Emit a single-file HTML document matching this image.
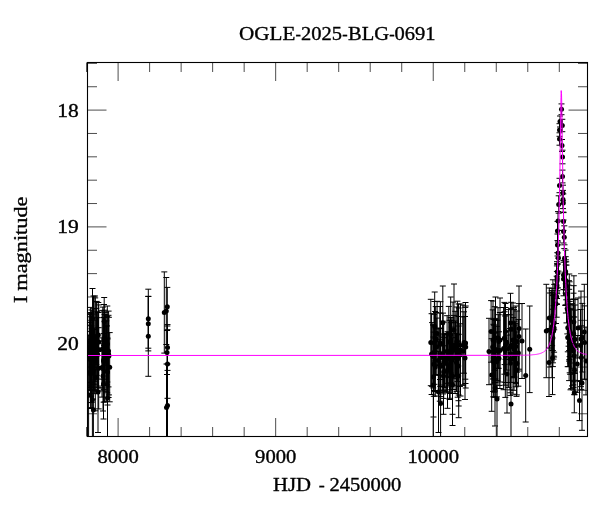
<!DOCTYPE html>
<html><head><meta charset="utf-8"><title>OGLE-2025-BLG-0691</title>
<style>html,body{margin:0;padding:0;background:#fff}svg{display:block}</style></head>
<body>
<svg width="600" height="512" viewBox="0 0 600 512">
<rect width="600" height="512" fill="#fff"/>
<defs><clipPath id="c"><rect x="87.5" y="62.5" width="500" height="374"/></clipPath></defs>
<g clip-path="url(#c)" stroke="#000" stroke-width="1" fill="none">
<path d="M148.3 289.2V348.2M145.3 289.2h6M145.3 348.2h6M148.3 296.5V350.9M145.3 296.5h6M145.3 350.9h6M148.3 296.3V376.3M145.3 296.3h6M145.3 376.3h6M164.3 271.9V353.1M161.3 271.9h6M161.3 353.1h6M166.3 277.5V344.5M163.3 277.5h6M163.3 344.5h6M167.3 287.4V326M164.3 287.4h6M164.3 326h6M167.5 324.6V370.4M164.5 324.6h6M164.5 370.4h6M167 330.5V374.5M164 330.5h6M164 374.5h6M167.5 329.7V398.3M164.5 329.7h6M164.5 398.3h6M167.5 364V447M164.5 364h6M164.5 447h6M166.5 364V451M163.5 364h6M163.5 451h6M93.1 342.7V399.1M90.1 342.7h6M90.1 399.1h6M95.3 344.4V410.8M92.3 344.4h6M92.3 410.8h6M90.4 314.1V382.9M87.4 314.1h6M87.4 382.9h6M90.5 325.2V382.2M87.5 325.2h6M87.5 382.2h6M94.1 328V389.6M91.1 328h6M91.1 389.6h6M96.2 301.8V388M93.2 301.8h6M93.2 388h6M91.3 325.8V407.6M88.3 325.8h6M88.3 407.6h6M91.6 328.7V402.5M88.6 328.7h6M88.6 402.5h6M96.3 308.4V364.6M93.3 308.4h6M93.3 364.6h6M90.4 341.6V402.6M87.4 341.6h6M87.4 402.6h6M96.7 301.4V375.4M93.7 301.4h6M93.7 375.4h6M94.4 329.5V393.7M91.4 329.5h6M91.4 393.7h6M97.9 312.5V386.1M94.9 312.5h6M94.9 386.1h6M95.2 297.9V381.7M92.2 297.9h6M92.2 381.7h6M97.2 311.8V369.8M94.2 311.8h6M94.2 369.8h6M91.4 310V386.8M88.4 310h6M88.4 386.8h6M97.6 317.7V391.1M94.6 317.7h6M94.6 391.1h6M98.7 304.9V379.1M95.7 304.9h6M95.7 379.1h6M90.4 307.4V385.2M87.4 307.4h6M87.4 385.2h6M93.7 314V390.8M90.7 314h6M90.7 390.8h6M90 313.2V371.2M87 313.2h6M87 371.2h6M90.4 316.8V397M87.4 316.8h6M87.4 397h6M91.1 312.5V396.1M88.1 312.5h6M88.1 396.1h6M90.6 339.3V408.5M87.6 339.3h6M87.6 408.5h6M89.8 322.4V390.6M86.8 322.4h6M86.8 390.6h6M98.7 327.7V408.9M95.7 327.7h6M95.7 408.9h6M93.8 308.7V384.3M90.8 308.7h6M90.8 384.3h6M90.4 331.4V387.6M87.4 331.4h6M87.4 387.6h6M103.7 333.6V389.4M100.7 333.6h6M100.7 389.4h6M102 337.9V397.1M99 337.9h6M99 397.1h6M102.8 307.1V390.9M99.8 307.1h6M99.8 390.9h6M106.9 325.9V384.9M103.9 325.9h6M103.9 384.9h6M104 312V370.2M101 312h6M101 370.2h6M105.7 314.9V372.3M102.7 314.9h6M102.7 372.3h6M104.7 321.4V384.4M101.7 321.4h6M101.7 384.4h6M108.6 311.1V397.5M105.6 311.1h6M105.6 397.5h6M106.2 326.2V385.2M103.2 326.2h6M103.2 385.2h6M108.9 317.3V394.9M105.9 317.3h6M105.9 394.9h6M106.3 320.8V401.2M103.3 320.8h6M103.3 401.2h6M104.6 314.5V401.9M101.6 314.5h6M101.6 401.9h6M108.5 315.3V386.9M105.5 315.3h6M105.5 386.9h6M104.8 310.2V365.2M101.8 310.2h6M101.8 365.2h6M102.2 310.4V388M99.2 310.4h6M99.2 388h6M109.7 332.6V401.8M106.7 332.6h6M106.7 401.8h6M103.8 317.4V379.2M100.8 317.4h6M100.8 379.2h6M103.6 317.6V402.2M100.6 317.6h6M100.6 402.2h6M107.2 316.4V392.8M104.2 316.4h6M104.2 392.8h6M92.5 288.5V348.5M89.5 288.5h6M89.5 348.5h6M104.2 297.5V345.5M101.2 297.5h6M101.2 345.5h6M93.5 296V384M90.5 296h6M90.5 384h6M95 296V380M92 296h6M92 380h6M98.3 302.5V367.5M95.3 302.5h6M95.3 367.5h6M104 304.5V385.5M101 304.5h6M101 385.5h6M107.3 306V382M104.3 306h6M104.3 382h6M98.3 312.3V387.7M95.3 312.3h6M95.3 387.7h6M106 312.3V391.7M103 312.3h6M103 391.7h6M89.3 314.3V389.7M86.3 314.3h6M86.3 389.7h6M88.6 335V455M85.6 335h6M85.6 455h6M92.4 340V460M89.4 340h6M89.4 460h6M93.4 350V470M90.4 350h6M90.4 470h6M107.5 338V458M104.5 338h6M104.5 458h6M98 351.5V432.5M95 351.5h6M95 432.5h6M103 341V411M100 341h6M100 411h6M103.5 349V419M100.5 349h6M100.5 419h6M107.5 339V405M104.5 339h6M104.5 405h6M462.9 305.1V385.3M459.9 305.1h6M459.9 385.3h6M457.4 301.2V381.6M454.4 301.2h6M454.4 381.6h6M443 313.1V393.9M440 313.1h6M440 393.9h6M456.5 333.4V391.6M453.5 333.4h6M453.5 391.6h6M465.3 307.4V379.2M462.3 307.4h6M462.3 379.2h6M436 312.5V365.1M433 312.5h6M433 365.1h6M460 323.8V386.4M457 323.8h6M457 386.4h6M439.8 328V401.2M436.8 328h6M436.8 401.2h6M440.4 301.7V386.5M437.4 301.7h6M437.4 386.5h6M443.7 322.2V390.6M440.7 322.2h6M440.7 390.6h6M448.8 306.4V377.6M445.8 306.4h6M445.8 377.6h6M449.6 340.9V399.5M446.6 340.9h6M446.6 399.5h6M431.6 313.7V394.5M428.6 313.7h6M428.6 394.5h6M442.7 321.2V391.8M439.7 321.2h6M439.7 391.8h6M450.7 317.6V389.8M447.7 317.6h6M447.7 389.8h6M440.1 313.1V375.1M437.1 313.1h6M437.1 375.1h6M463 316.9V384.9M460 316.9h6M460 384.9h6M447.1 315.7V386.9M444.1 315.7h6M444.1 386.9h6M464 311.8V373.2M461 311.8h6M461 373.2h6M435.7 306.6V374.6M432.7 306.6h6M432.7 374.6h6M434 314.3V390.5M431 314.3h6M431 390.5h6M458.5 316.5V400.7M455.5 316.5h6M455.5 400.7h6M436.8 318.1V375.3M433.8 318.1h6M433.8 375.3h6M465.7 306V388M462.7 306h6M462.7 388h6M437.1 301.3V365.5M434.1 301.3h6M434.1 365.5h6M438.3 328.8V392.2M435.3 328.8h6M435.3 392.2h6M432.1 322.6V386.6M429.1 322.6h6M429.1 386.6h6M453 302.1V389.5M450 302.1h6M450 389.5h6M458.7 308V395M455.7 308h6M455.7 395h6M435.1 311.5V391.5M432.1 311.5h6M432.1 391.5h6M440.8 328.5V385.1M437.8 328.5h6M437.8 385.1h6M451.2 322.7V376.7M448.2 322.7h6M448.2 376.7h6M455.2 311.3V378.7M452.2 311.3h6M452.2 378.7h6M434.4 301.5V384.3M431.4 301.5h6M431.4 384.3h6M433.8 332.1V396.3M430.8 332.1h6M430.8 396.3h6M440.7 336V396.6M437.7 336h6M437.7 396.6h6M435.3 338.2V396M432.3 338.2h6M432.3 396h6M433.2 324.9V387.9M430.2 324.9h6M430.2 387.9h6M457.7 334.8V397.2M454.7 334.8h6M454.7 397.2h6M448.8 332.6V385.2M445.8 332.6h6M445.8 385.2h6M440.1 339.8V392.4M437.1 339.8h6M437.1 392.4h6M456.8 307V376M453.8 307h6M453.8 376h6M455.5 321V376M452.5 321h6M452.5 376h6M451.8 327.1V393.3M448.8 327.1h6M448.8 393.3h6M453.9 315.4V385.2M450.9 315.4h6M450.9 385.2h6M451.8 320.9V376.5M448.8 320.9h6M448.8 376.5h6M449.5 320.3V393.1M446.5 320.3h6M446.5 393.1h6M450.8 317.9V393.5M447.8 317.9h6M447.8 393.5h6M455.1 322.7V393.5M452.1 322.7h6M452.1 393.5h6M451 320.3V385.1M448 320.3h6M448 385.1h6M450.1 333.9V398.3M447.1 333.9h6M447.1 398.3h6M451.2 320.2V382.8M448.2 320.2h6M448.2 382.8h6M445.9 333.4V391.4M442.9 333.4h6M442.9 391.4h6M444.5 334.2V387.4M441.5 334.2h6M441.5 387.4h6M443.9 334V390M440.9 334h6M440.9 390h6M443.7 345.8V398.4M440.7 345.8h6M440.7 398.4h6M446.4 334.1V392.7M443.4 334.1h6M443.4 392.7h6M446.9 334.7V383.3M443.9 334.7h6M443.9 383.3h6M430.8 299.3V385.7M427.8 299.3h6M427.8 385.7h6M434.7 292V361M431.7 292h6M431.7 361h6M442.8 286V359.4M439.8 286h6M439.8 359.4h6M454 284V376M451 284h6M451 376h6M450.7 297V373M447.7 297h6M447.7 373h6M440 306.5V379.5M437 306.5h6M437 379.5h6M458.5 304V386M455.5 304h6M455.5 386h6M460.5 304V396M457.5 304h6M457.5 396h6M465.5 302.5V383.5M462.5 302.5h6M462.5 383.5h6M440.6 353.5V453.5M437.6 353.5h6M437.6 453.5h6M433.3 325V445M430.3 325h6M430.3 445h6M433.5 337V417M430.5 337h6M430.5 417h6M438.5 351.5V432.5M435.5 351.5h6M435.5 432.5h6M443.5 337.7V414.3M440.5 337.7h6M440.5 414.3h6M447.5 331.7V408.3M444.5 331.7h6M444.5 408.3h6M452.5 337.7V414.3M449.5 337.7h6M449.5 414.3h6M452.5 344.5V425.5M449.5 344.5h6M449.5 425.5h6M458.7 326V406M455.7 326h6M455.7 406h6M458.7 334.3V417.7M455.7 334.3h6M455.7 417.7h6M465 316.5V399.5M462 316.5h6M462 399.5h6M494.7 306.7V370.3M491.7 306.7h6M491.7 370.3h6M493.9 325.2V397.2M490.9 325.2h6M490.9 397.2h6M505.1 316V385.2M502.1 316h6M502.1 385.2h6M493.1 331V391.4M490.1 331h6M490.1 391.4h6M504.4 302.4V374.2M501.4 302.4h6M501.4 374.2h6M495.1 318.4V380.2M492.1 318.4h6M492.1 380.2h6M492.7 309.9V384.1M489.7 309.9h6M489.7 384.1h6M505.5 303.5V359.3M502.5 303.5h6M502.5 359.3h6M516 325V383.4M513 325h6M513 383.4h6M518.4 319.6V386.2M515.4 319.6h6M515.4 386.2h6M514 307.3V390.3M511 307.3h6M511 390.3h6M503.6 307.5V389.7M500.6 307.5h6M500.6 389.7h6M496.9 326.3V396.9M493.9 326.3h6M493.9 396.9h6M514 309.6V377.8M511 309.6h6M511 377.8h6M515.8 306V386.8M512.8 306h6M512.8 386.8h6M504.6 311.8V364.6M501.6 311.8h6M501.6 364.6h6M491.1 300.6V362.2M488.1 300.6h6M488.1 362.2h6M494.9 319.5V382.5M491.9 319.5h6M491.9 382.5h6M499.9 312.5V388.5M496.9 312.5h6M496.9 388.5h6M514.5 321.3V377.1M511.5 321.3h6M511.5 377.1h6M516.9 311V372.2M513.9 311h6M513.9 372.2h6M519 303.6V369.2M516 303.6h6M516 369.2h6M498.7 314.7V368.3M495.7 314.7h6M495.7 368.3h6M498 307.7V368.3M495 307.7h6M495 368.3h6M505.3 314.8V397.4M502.3 314.8h6M502.3 397.4h6M511.1 302.3V355.9M508.1 302.3h6M508.1 355.9h6M499 331.8V385.4M496 331.8h6M496 385.4h6M516.9 331.9V394.9M513.9 331.9h6M513.9 394.9h6M497.4 320.2V380.6M494.4 320.2h6M494.4 380.6h6M493.3 319.4V396.8M490.3 319.4h6M490.3 396.8h6M495 332.8V391M492 332.8h6M492 391h6M493.5 324.3V378.9M490.5 324.3h6M490.5 378.9h6M494.2 333V392.2M491.2 333h6M491.2 392.2h6M495.3 320.4V397.2M492.3 320.4h6M492.3 397.2h6M510.1 328.5V389.9M507.1 328.5h6M507.1 389.9h6M506.7 314.5V370.1M503.7 314.5h6M503.7 370.1h6M515.5 323.4V382.4M512.5 323.4h6M512.5 382.4h6M510.4 331V395.4M507.4 331h6M507.4 395.4h6M516.5 343.8V396.4M513.5 343.8h6M513.5 396.4h6M510.3 314.8V392.8M507.3 314.8h6M507.3 392.8h6M511 308.4V382.4M508 308.4h6M508 382.4h6M508.6 309.6V387.4M505.6 309.6h6M505.6 387.4h6M513.1 317.6V376.6M510.1 317.6h6M510.1 376.6h6M513 322.6V394.2M510 322.6h6M510 394.2h6M489 318.3V384.7M486 318.3h6M486 384.7h6M493 301V379M490 301h6M490 379h6M495.5 297V379M492.5 297h6M492.5 379h6M500 298V382M497 298h6M497 382h6M505.5 307.5V382.5M502.5 307.5h6M502.5 382.5h6M510.5 293.3V352.7M507.5 293.3h6M507.5 352.7h6M513 303V377M510 303h6M510 377h6M519 286V371M516 286h6M516 371h6M522 303.5V378.5M519 303.5h6M519 378.5h6M529.7 306V392.6M526.7 306h6M526.7 392.6h6M525.7 329V422M522.7 329h6M522.7 422h6M511 354V454M508 354h6M508 454h6M497 354V444M494 354h6M494 444h6M491.7 338.7V411.3M488.7 338.7h6M488.7 411.3h6M495 350V426M492 350h6M492 426h6M507 335V413M504 335h6M504 413h6M561.5 103.9V114.7M558.5 103.9h6M558.5 114.7h6M560 116V127M557 116h6M557 127h6M562.3 119.3V131.7M559.3 119.3h6M559.3 131.7h6M559.5 123.7V136.3M556.5 123.7h6M556.5 136.3h6M559.5 132.8V145.2M556.5 132.8h6M556.5 145.2h6M562 139.5V151.5M559 139.5h6M559 151.5h6M562.5 150.2V163.8M559.5 150.2h6M559.5 163.8h6M562.5 170.1V182.9M559.5 170.1h6M559.5 182.9h6M559.5 178.3V192.7M556.5 178.3h6M556.5 192.7h6M563 185.2V200.8M560 185.2h6M560 200.8h6M563 190.4V208.6M560 190.4h6M560 208.6h6M558.7 195.8V213.2M555.7 195.8h6M555.7 213.2h6M563.3 193.9V212.1M560.3 193.9h6M560.3 212.1h6M558 211.6V230.4M555 211.6h6M555 230.4h6M563.5 212.6V230.4M560.5 212.6h6M560.5 230.4h6M557.5 221.4V240.6M554.5 221.4h6M554.5 240.6h6M563.5 220V243M560.5 220h6M560.5 243h6M564.3 225.8V248.6M561.3 225.8h6M561.3 248.6h6M557.5 234V256M554.5 234h6M554.5 256h6M558 242V264M555 242h6M555 264h6M558.4 244.9V271.1M555.4 244.9h6M555.4 271.1h6M564.5 244.8V272.2M561.5 244.8h6M561.5 272.2h6M558 258.1V287.9M555 258.1h6M555 287.9h6M563.5 260.4V289.6M560.5 260.4h6M560.5 289.6h6M563.5 262.2V295.8M560.5 262.2h6M560.5 295.8h6M556.9 271.4V303.8M553.9 271.4h6M553.9 303.8h6M554.1 293.8V352.2M551.1 293.8h6M551.1 352.2h6M552.9 295.6V362.8M549.9 295.6h6M549.9 362.8h6M552.9 279.8V350.6M549.9 279.8h6M549.9 350.6h6M553.5 294.5V359.1M550.5 294.5h6M550.5 359.1h6M556 283.9V323.5M553 283.9h6M553 323.5h6M557 263.7V298.5M554 263.7h6M554 298.5h6M554.1 298.8V357M551.1 298.8h6M551.1 357h6M557 261.7V292.1M554 261.7h6M554 292.1h6M557.2 264.3V293.7M554.2 264.3h6M554.2 293.7h6M552.1 292.1V345.7M549.1 292.1h6M549.1 345.7h6M556.7 276.2V317.2M553.7 276.2h6M553.7 317.2h6M557.3 252.7V290.7M554.3 252.7h6M554.3 290.7h6M556.9 265.9V304.5M553.9 265.9h6M553.9 304.5h6M552 292.7V360.9M549 292.7h6M549 360.9h6M553.6 305.7V356.1M550.6 305.7h6M550.6 356.1h6M551.8 290.6V350.2M548.8 290.6h6M548.8 350.2h6M552.5 321.6V394.6M549.5 321.6h6M549.5 394.6h6M552.9 309.2V366.6M549.9 309.2h6M549.9 366.6h6M554.2 284.4V329.8M551.2 284.4h6M551.2 329.8h6M546.3 284.3V377.7M543.3 284.3h6M543.3 377.7h6M549 328.5V396.5M546 328.5h6M546 396.5h6M552 288.3V377.7M549 288.3h6M549 377.7h6M550 293V367M547 293h6M547 367h6M549.3 288V348M546.3 288h6M546.3 348h6M570.1 304.9V374.3M567.1 304.9h6M567.1 374.3h6M569 280.7V361.1M566 280.7h6M566 361.1h6M565.6 265V304.8M562.6 265h6M562.6 304.8h6M565.7 256.7V290.1M562.7 256.7h6M562.7 290.1h6M565.9 259.8V313M562.9 259.8h6M562.9 313h6M574.5 345.6V394.8M571.5 345.6h6M571.5 394.8h6M575.1 299.6V392.2M572.1 299.6h6M572.1 392.2h6M568.5 308.4V366.6M565.5 308.4h6M565.5 366.6h6M565.3 261.9V305.5M562.3 261.9h6M562.3 305.5h6M574.9 305V373.4M571.9 305h6M571.9 373.4h6M567.7 308.3V366.7M564.7 308.3h6M564.7 366.7h6M569.2 289.3V350.5M566.2 289.3h6M566.2 350.5h6M569.7 301.4V372.8M566.7 301.4h6M566.7 372.8h6M573.5 293.2V387.4M570.5 293.2h6M570.5 387.4h6M573.7 285.7V381.7M570.7 285.7h6M570.7 381.7h6M568.6 285.2V346.2M565.6 285.2h6M565.6 346.2h6M573.3 316.9V384.9M570.3 316.9h6M570.3 384.9h6M567.8 303.8V351.8M564.8 303.8h6M564.8 351.8h6M565.6 250.1V293.1M562.6 250.1h6M562.6 293.1h6M574.3 372.8V412.8M571.3 372.8h6M571.3 412.8h6M566.2 261.8V299.8M563.2 261.8h6M563.2 299.8h6M569.9 299.4V363M566.9 299.4h6M566.9 363h6M569.6 281.8V356.6M566.6 281.8h6M566.6 356.6h6M573.9 275.8V368.2M570.9 275.8h6M570.9 368.2h6M566.5 265.1V322.9M563.5 265.1h6M563.5 322.9h6M569.1 304.6V380.6M566.1 304.6h6M566.1 380.6h6M567.3 284.1V333.9M564.3 284.1h6M564.3 333.9h6M574.3 317V394.4M571.3 317h6M571.3 394.4h6M569.3 274V359.6M566.3 274h6M566.3 359.6h6M573.5 299V390M570.5 299h6M570.5 390h6M570.5 308.8V389.8M567.5 308.8h6M567.5 389.8h6M571.3 309.4V388.6M568.3 309.4h6M568.3 388.6h6M572 303.7V385.9M569 303.7h6M569 385.9h6M574.7 310.1V380.3M571.7 310.1h6M571.7 380.3h6M577.3 335.5V392.3M574.3 335.5h6M574.3 392.3h6M579.5 380.6V420.6M576.5 380.6h6M576.5 420.6h6M581 291.1V386.7M578 291.1h6M578 386.7h6M581.4 325.8V389.4M578.4 325.8h6M578.4 389.4h6M582.3 303.4V372M579.3 303.4h6M579.3 372h6M584.5 305.9V379.1M581.5 305.9h6M581.5 379.1h6M586 327.1V394.9M583 327.1h6M583 394.9h6M584.3 284.3V379.7M581.3 284.3h6M581.3 379.7h6M578 298V358M575 298h6M575 358h6M580.5 309.5V381.5M577.5 309.5h6M577.5 381.5h6M582 335.7V430.3M579 335.7h6M579 430.3h6"/>
</g>
<g clip-path="url(#c)" fill="#000">
<circle cx="148.3" cy="318.7" r="2.5"/>
<circle cx="148.3" cy="323.7" r="2.5"/>
<circle cx="148.3" cy="336.3" r="2.5"/>
<circle cx="164.3" cy="312.5" r="2.5"/>
<circle cx="166.3" cy="311" r="2.5"/>
<circle cx="167.3" cy="306.7" r="2.5"/>
<circle cx="167.5" cy="347.5" r="2.5"/>
<circle cx="167" cy="352.5" r="2.5"/>
<circle cx="167.5" cy="364" r="2.5"/>
<circle cx="167.5" cy="405.5" r="2.5"/>
<circle cx="166.5" cy="407.5" r="2.5"/>
<circle cx="93.1" cy="370.9" r="2.5"/>
<circle cx="95.3" cy="377.6" r="2.5"/>
<circle cx="90.4" cy="348.5" r="2.5"/>
<circle cx="90.5" cy="353.7" r="2.5"/>
<circle cx="94.1" cy="358.8" r="2.5"/>
<circle cx="96.2" cy="344.9" r="2.5"/>
<circle cx="91.3" cy="366.7" r="2.5"/>
<circle cx="91.6" cy="365.6" r="2.5"/>
<circle cx="96.3" cy="336.5" r="2.5"/>
<circle cx="90.4" cy="372.1" r="2.5"/>
<circle cx="96.7" cy="338.4" r="2.5"/>
<circle cx="94.4" cy="361.6" r="2.5"/>
<circle cx="97.9" cy="349.3" r="2.5"/>
<circle cx="95.2" cy="339.8" r="2.5"/>
<circle cx="97.2" cy="340.8" r="2.5"/>
<circle cx="91.4" cy="348.4" r="2.5"/>
<circle cx="97.6" cy="354.4" r="2.5"/>
<circle cx="98.7" cy="342" r="2.5"/>
<circle cx="90.4" cy="346.3" r="2.5"/>
<circle cx="93.7" cy="352.4" r="2.5"/>
<circle cx="90" cy="342.2" r="2.5"/>
<circle cx="90.4" cy="356.9" r="2.5"/>
<circle cx="91.1" cy="354.3" r="2.5"/>
<circle cx="90.6" cy="373.9" r="2.5"/>
<circle cx="89.8" cy="356.5" r="2.5"/>
<circle cx="98.7" cy="368.3" r="2.5"/>
<circle cx="93.8" cy="346.5" r="2.5"/>
<circle cx="90.4" cy="359.5" r="2.5"/>
<circle cx="103.7" cy="361.5" r="2.5"/>
<circle cx="102" cy="367.5" r="2.5"/>
<circle cx="102.8" cy="349" r="2.5"/>
<circle cx="106.9" cy="355.4" r="2.5"/>
<circle cx="104" cy="341.1" r="2.5"/>
<circle cx="105.7" cy="343.6" r="2.5"/>
<circle cx="104.7" cy="352.9" r="2.5"/>
<circle cx="108.6" cy="354.3" r="2.5"/>
<circle cx="106.2" cy="355.7" r="2.5"/>
<circle cx="108.9" cy="356.1" r="2.5"/>
<circle cx="106.3" cy="361" r="2.5"/>
<circle cx="104.6" cy="358.2" r="2.5"/>
<circle cx="108.5" cy="351.1" r="2.5"/>
<circle cx="104.8" cy="337.7" r="2.5"/>
<circle cx="102.2" cy="349.2" r="2.5"/>
<circle cx="109.7" cy="367.2" r="2.5"/>
<circle cx="103.8" cy="348.3" r="2.5"/>
<circle cx="103.6" cy="359.9" r="2.5"/>
<circle cx="107.2" cy="354.6" r="2.5"/>
<circle cx="92.5" cy="318.5" r="2.5"/>
<circle cx="104.2" cy="321.5" r="2.5"/>
<circle cx="93.5" cy="340" r="2.5"/>
<circle cx="95" cy="338" r="2.5"/>
<circle cx="98.3" cy="335" r="2.5"/>
<circle cx="104" cy="345" r="2.5"/>
<circle cx="107.3" cy="344" r="2.5"/>
<circle cx="98.3" cy="350" r="2.5"/>
<circle cx="106" cy="352" r="2.5"/>
<circle cx="89.3" cy="352" r="2.5"/>
<circle cx="88.6" cy="395" r="2.5"/>
<circle cx="92.4" cy="400" r="2.5"/>
<circle cx="93.4" cy="410" r="2.5"/>
<circle cx="107.5" cy="398" r="2.5"/>
<circle cx="98" cy="392" r="2.5"/>
<circle cx="103" cy="376" r="2.5"/>
<circle cx="103.5" cy="384" r="2.5"/>
<circle cx="107.5" cy="372" r="2.5"/>
<circle cx="462.9" cy="345.2" r="2.5"/>
<circle cx="457.4" cy="341.4" r="2.5"/>
<circle cx="443" cy="353.5" r="2.5"/>
<circle cx="456.5" cy="362.5" r="2.5"/>
<circle cx="465.3" cy="343.3" r="2.5"/>
<circle cx="436" cy="338.8" r="2.5"/>
<circle cx="460" cy="355.1" r="2.5"/>
<circle cx="439.8" cy="364.6" r="2.5"/>
<circle cx="440.4" cy="344.1" r="2.5"/>
<circle cx="443.7" cy="356.4" r="2.5"/>
<circle cx="448.8" cy="342" r="2.5"/>
<circle cx="449.6" cy="370.2" r="2.5"/>
<circle cx="431.6" cy="354.1" r="2.5"/>
<circle cx="442.7" cy="356.5" r="2.5"/>
<circle cx="450.7" cy="353.7" r="2.5"/>
<circle cx="440.1" cy="344.1" r="2.5"/>
<circle cx="463" cy="350.9" r="2.5"/>
<circle cx="447.1" cy="351.3" r="2.5"/>
<circle cx="464" cy="342.5" r="2.5"/>
<circle cx="435.7" cy="340.6" r="2.5"/>
<circle cx="434" cy="352.4" r="2.5"/>
<circle cx="458.5" cy="358.6" r="2.5"/>
<circle cx="436.8" cy="346.7" r="2.5"/>
<circle cx="465.7" cy="347" r="2.5"/>
<circle cx="437.1" cy="333.4" r="2.5"/>
<circle cx="438.3" cy="360.5" r="2.5"/>
<circle cx="432.1" cy="354.6" r="2.5"/>
<circle cx="453" cy="345.8" r="2.5"/>
<circle cx="458.7" cy="351.5" r="2.5"/>
<circle cx="435.1" cy="351.5" r="2.5"/>
<circle cx="440.8" cy="356.8" r="2.5"/>
<circle cx="451.2" cy="349.7" r="2.5"/>
<circle cx="455.2" cy="345" r="2.5"/>
<circle cx="434.4" cy="342.9" r="2.5"/>
<circle cx="433.8" cy="364.2" r="2.5"/>
<circle cx="440.7" cy="366.3" r="2.5"/>
<circle cx="435.3" cy="367.1" r="2.5"/>
<circle cx="433.2" cy="356.4" r="2.5"/>
<circle cx="457.7" cy="366" r="2.5"/>
<circle cx="448.8" cy="358.9" r="2.5"/>
<circle cx="440.1" cy="366.1" r="2.5"/>
<circle cx="456.8" cy="341.5" r="2.5"/>
<circle cx="455.5" cy="348.5" r="2.5"/>
<circle cx="451.8" cy="360.2" r="2.5"/>
<circle cx="453.9" cy="350.3" r="2.5"/>
<circle cx="451.8" cy="348.7" r="2.5"/>
<circle cx="449.5" cy="356.7" r="2.5"/>
<circle cx="450.8" cy="355.7" r="2.5"/>
<circle cx="455.1" cy="358.1" r="2.5"/>
<circle cx="451" cy="352.7" r="2.5"/>
<circle cx="450.1" cy="366.1" r="2.5"/>
<circle cx="451.2" cy="351.5" r="2.5"/>
<circle cx="445.9" cy="362.4" r="2.5"/>
<circle cx="444.5" cy="360.8" r="2.5"/>
<circle cx="443.9" cy="362" r="2.5"/>
<circle cx="443.7" cy="372.1" r="2.5"/>
<circle cx="446.4" cy="363.4" r="2.5"/>
<circle cx="446.9" cy="359" r="2.5"/>
<circle cx="430.8" cy="342.5" r="2.5"/>
<circle cx="434.7" cy="326.5" r="2.5"/>
<circle cx="442.8" cy="322.7" r="2.5"/>
<circle cx="454" cy="330" r="2.5"/>
<circle cx="450.7" cy="335" r="2.5"/>
<circle cx="440" cy="343" r="2.5"/>
<circle cx="458.5" cy="345" r="2.5"/>
<circle cx="460.5" cy="350" r="2.5"/>
<circle cx="465.5" cy="343" r="2.5"/>
<circle cx="440.6" cy="403.5" r="2.5"/>
<circle cx="433.3" cy="385" r="2.5"/>
<circle cx="433.5" cy="377" r="2.5"/>
<circle cx="438.5" cy="392" r="2.5"/>
<circle cx="443.5" cy="376" r="2.5"/>
<circle cx="447.5" cy="370" r="2.5"/>
<circle cx="452.5" cy="376" r="2.5"/>
<circle cx="452.5" cy="385" r="2.5"/>
<circle cx="458.7" cy="366" r="2.5"/>
<circle cx="458.7" cy="376" r="2.5"/>
<circle cx="465" cy="358" r="2.5"/>
<circle cx="494.7" cy="338.5" r="2.5"/>
<circle cx="493.9" cy="361.2" r="2.5"/>
<circle cx="505.1" cy="350.6" r="2.5"/>
<circle cx="493.1" cy="361.2" r="2.5"/>
<circle cx="504.4" cy="338.3" r="2.5"/>
<circle cx="495.1" cy="349.3" r="2.5"/>
<circle cx="492.7" cy="347" r="2.5"/>
<circle cx="505.5" cy="331.4" r="2.5"/>
<circle cx="516" cy="354.2" r="2.5"/>
<circle cx="518.4" cy="352.9" r="2.5"/>
<circle cx="514" cy="348.8" r="2.5"/>
<circle cx="503.6" cy="348.6" r="2.5"/>
<circle cx="496.9" cy="361.6" r="2.5"/>
<circle cx="514" cy="343.7" r="2.5"/>
<circle cx="515.8" cy="346.4" r="2.5"/>
<circle cx="504.6" cy="338.2" r="2.5"/>
<circle cx="491.1" cy="331.4" r="2.5"/>
<circle cx="494.9" cy="351" r="2.5"/>
<circle cx="499.9" cy="350.5" r="2.5"/>
<circle cx="514.5" cy="349.2" r="2.5"/>
<circle cx="516.9" cy="341.6" r="2.5"/>
<circle cx="519" cy="336.4" r="2.5"/>
<circle cx="498.7" cy="341.5" r="2.5"/>
<circle cx="498" cy="338" r="2.5"/>
<circle cx="505.3" cy="356.1" r="2.5"/>
<circle cx="511.1" cy="329.1" r="2.5"/>
<circle cx="499" cy="358.6" r="2.5"/>
<circle cx="516.9" cy="363.4" r="2.5"/>
<circle cx="497.4" cy="350.4" r="2.5"/>
<circle cx="493.3" cy="358.1" r="2.5"/>
<circle cx="495" cy="361.9" r="2.5"/>
<circle cx="493.5" cy="351.6" r="2.5"/>
<circle cx="494.2" cy="362.6" r="2.5"/>
<circle cx="495.3" cy="358.8" r="2.5"/>
<circle cx="510.1" cy="359.2" r="2.5"/>
<circle cx="506.7" cy="342.3" r="2.5"/>
<circle cx="515.5" cy="352.9" r="2.5"/>
<circle cx="510.4" cy="363.2" r="2.5"/>
<circle cx="516.5" cy="370.1" r="2.5"/>
<circle cx="510.3" cy="353.8" r="2.5"/>
<circle cx="511" cy="345.4" r="2.5"/>
<circle cx="508.6" cy="348.5" r="2.5"/>
<circle cx="513.1" cy="347.1" r="2.5"/>
<circle cx="513" cy="358.4" r="2.5"/>
<circle cx="489" cy="351.5" r="2.5"/>
<circle cx="493" cy="340" r="2.5"/>
<circle cx="495.5" cy="338" r="2.5"/>
<circle cx="500" cy="340" r="2.5"/>
<circle cx="505.5" cy="345" r="2.5"/>
<circle cx="510.5" cy="323" r="2.5"/>
<circle cx="513" cy="340" r="2.5"/>
<circle cx="519" cy="328.5" r="2.5"/>
<circle cx="522" cy="341" r="2.5"/>
<circle cx="529.7" cy="349.3" r="2.5"/>
<circle cx="525.7" cy="375.5" r="2.5"/>
<circle cx="511" cy="404" r="2.5"/>
<circle cx="497" cy="399" r="2.5"/>
<circle cx="491.7" cy="375" r="2.5"/>
<circle cx="495" cy="388" r="2.5"/>
<circle cx="507" cy="374" r="2.5"/>
<circle cx="561.5" cy="109.3" r="2.5"/>
<circle cx="560" cy="121.5" r="2.5"/>
<circle cx="562.3" cy="125.5" r="2.5"/>
<circle cx="559.5" cy="130" r="2.5"/>
<circle cx="559.5" cy="139" r="2.5"/>
<circle cx="562" cy="145.5" r="2.5"/>
<circle cx="562.5" cy="157" r="2.5"/>
<circle cx="562.5" cy="176.5" r="2.5"/>
<circle cx="559.5" cy="185.5" r="2.5"/>
<circle cx="563" cy="193" r="2.5"/>
<circle cx="563" cy="199.5" r="2.5"/>
<circle cx="558.7" cy="204.5" r="2.5"/>
<circle cx="563.3" cy="203" r="2.5"/>
<circle cx="558" cy="221" r="2.5"/>
<circle cx="563.5" cy="221.5" r="2.5"/>
<circle cx="557.5" cy="231" r="2.5"/>
<circle cx="563.5" cy="231.5" r="2.5"/>
<circle cx="564.3" cy="237.2" r="2.5"/>
<circle cx="557.5" cy="245" r="2.5"/>
<circle cx="558" cy="253" r="2.5"/>
<circle cx="558.4" cy="258" r="2.5"/>
<circle cx="564.5" cy="258.5" r="2.5"/>
<circle cx="558" cy="273" r="2.5"/>
<circle cx="563.5" cy="275" r="2.5"/>
<circle cx="563.5" cy="279" r="2.5"/>
<circle cx="556.9" cy="287.6" r="2.5"/>
<circle cx="554.1" cy="323" r="2.5"/>
<circle cx="552.9" cy="329.2" r="2.5"/>
<circle cx="552.9" cy="315.2" r="2.5"/>
<circle cx="553.5" cy="326.8" r="2.5"/>
<circle cx="556" cy="303.7" r="2.5"/>
<circle cx="557" cy="281.1" r="2.5"/>
<circle cx="554.1" cy="327.9" r="2.5"/>
<circle cx="557" cy="276.9" r="2.5"/>
<circle cx="557.2" cy="279" r="2.5"/>
<circle cx="552.1" cy="318.9" r="2.5"/>
<circle cx="556.7" cy="296.7" r="2.5"/>
<circle cx="557.3" cy="271.7" r="2.5"/>
<circle cx="556.9" cy="285.2" r="2.5"/>
<circle cx="552" cy="326.8" r="2.5"/>
<circle cx="553.6" cy="330.9" r="2.5"/>
<circle cx="551.8" cy="320.4" r="2.5"/>
<circle cx="552.5" cy="358.1" r="2.5"/>
<circle cx="552.9" cy="337.9" r="2.5"/>
<circle cx="554.2" cy="307.1" r="2.5"/>
<circle cx="546.3" cy="331" r="2.5"/>
<circle cx="549" cy="362.5" r="2.5"/>
<circle cx="552" cy="333" r="2.5"/>
<circle cx="550" cy="330" r="2.5"/>
<circle cx="549.3" cy="318" r="2.5"/>
<circle cx="570.1" cy="339.6" r="2.5"/>
<circle cx="569" cy="320.9" r="2.5"/>
<circle cx="565.6" cy="284.9" r="2.5"/>
<circle cx="565.7" cy="273.4" r="2.5"/>
<circle cx="565.9" cy="286.4" r="2.5"/>
<circle cx="574.5" cy="370.2" r="2.5"/>
<circle cx="575.1" cy="345.9" r="2.5"/>
<circle cx="568.5" cy="337.5" r="2.5"/>
<circle cx="565.3" cy="283.7" r="2.5"/>
<circle cx="574.9" cy="339.2" r="2.5"/>
<circle cx="567.7" cy="337.5" r="2.5"/>
<circle cx="569.2" cy="319.9" r="2.5"/>
<circle cx="569.7" cy="337.1" r="2.5"/>
<circle cx="573.5" cy="340.3" r="2.5"/>
<circle cx="573.7" cy="333.7" r="2.5"/>
<circle cx="568.6" cy="315.7" r="2.5"/>
<circle cx="573.3" cy="350.9" r="2.5"/>
<circle cx="567.8" cy="327.8" r="2.5"/>
<circle cx="565.6" cy="271.6" r="2.5"/>
<circle cx="574.3" cy="392.8" r="2.5"/>
<circle cx="566.2" cy="280.8" r="2.5"/>
<circle cx="569.9" cy="331.2" r="2.5"/>
<circle cx="569.6" cy="319.2" r="2.5"/>
<circle cx="573.9" cy="322" r="2.5"/>
<circle cx="566.5" cy="294" r="2.5"/>
<circle cx="569.1" cy="342.6" r="2.5"/>
<circle cx="567.3" cy="309" r="2.5"/>
<circle cx="574.3" cy="355.7" r="2.5"/>
<circle cx="569.3" cy="316.8" r="2.5"/>
<circle cx="573.5" cy="344.5" r="2.5"/>
<circle cx="570.5" cy="349.3" r="2.5"/>
<circle cx="571.3" cy="349" r="2.5"/>
<circle cx="572" cy="344.8" r="2.5"/>
<circle cx="574.7" cy="345.2" r="2.5"/>
<circle cx="577.3" cy="363.9" r="2.5"/>
<circle cx="579.5" cy="400.6" r="2.5"/>
<circle cx="581" cy="338.9" r="2.5"/>
<circle cx="581.4" cy="357.6" r="2.5"/>
<circle cx="582.3" cy="337.7" r="2.5"/>
<circle cx="584.5" cy="342.5" r="2.5"/>
<circle cx="586" cy="361" r="2.5"/>
<circle cx="584.3" cy="332" r="2.5"/>
<circle cx="578" cy="328" r="2.5"/>
<circle cx="580.5" cy="345.5" r="2.5"/>
<circle cx="582" cy="383" r="2.5"/>
</g>
<path clip-path="url(#c)" d="M87.5 355.5 L519.5 355.3 L519.8 355.3 L520.0 355.3 L520.2 355.3 L520.5 355.3 L520.8 355.3 L521.0 355.3 L521.2 355.3 L521.5 355.3 L521.8 355.3 L522.0 355.3 L522.2 355.3 L522.5 355.3 L522.8 355.3 L523.0 355.3 L523.2 355.3 L523.5 355.2 L523.8 355.2 L524.0 355.2 L524.2 355.2 L524.5 355.2 L524.8 355.2 L525.0 355.2 L525.2 355.2 L525.5 355.2 L525.8 355.2 L526.0 355.2 L526.2 355.2 L526.5 355.2 L526.8 355.1 L527.0 355.1 L527.2 355.1 L527.5 355.1 L527.8 355.1 L528.0 355.1 L528.2 355.1 L528.5 355.1 L528.8 355.1 L529.0 355.0 L529.2 355.0 L529.5 355.0 L529.8 355.0 L530.0 355.0 L530.2 355.0 L530.5 355.0 L530.8 354.9 L531.0 354.9 L531.2 354.9 L531.5 354.9 L531.8 354.9 L532.0 354.9 L532.2 354.8 L532.5 354.8 L532.8 354.8 L533.0 354.8 L533.2 354.7 L533.5 354.7 L533.8 354.7 L534.0 354.7 L534.2 354.6 L534.5 354.6 L534.8 354.6 L535.0 354.5 L535.2 354.5 L535.5 354.5 L535.8 354.4 L536.0 354.4 L536.2 354.4 L536.5 354.3 L536.8 354.3 L537.0 354.2 L537.2 354.2 L537.5 354.1 L537.8 354.1 L538.0 354.0 L538.2 354.0 L538.5 353.9 L538.8 353.9 L539.0 353.8 L539.2 353.7 L539.5 353.7 L539.8 353.6 L540.0 353.5 L540.2 353.4 L540.5 353.4 L540.8 353.3 L541.0 353.2 L541.2 353.1 L541.5 353.0 L541.8 352.9 L542.0 352.8 L542.2 352.7 L542.5 352.5 L542.8 352.4 L543.0 352.3 L543.2 352.1 L543.5 352.0 L543.8 351.8 L544.0 351.6 L544.2 351.5 L544.5 351.3 L544.8 351.1 L545.0 350.9 L545.2 350.6 L545.5 350.4 L545.8 350.2 L546.0 349.9 L546.2 349.6 L546.5 349.3 L546.8 349.0 L547.0 348.7 L547.2 348.3 L547.5 347.9 L547.8 347.6 L548.0 347.1 L548.2 346.7 L548.5 346.2 L548.8 345.7 L549.0 345.2 L549.2 344.6 L549.5 344.0 L549.8 343.3 L550.0 342.6 L550.2 341.9 L550.5 341.1 L550.8 340.3 L551.0 339.3 L551.2 338.4 L551.5 337.4 L551.8 336.3 L552.0 335.1 L552.2 333.8 L552.5 332.5 L552.8 331.0 L553.0 329.4 L553.2 327.8 L553.5 326.0 L553.8 324.1 L554.0 322.0 L554.2 319.8 L554.5 317.4 L554.8 314.8 L555.0 312.0 L555.2 309.0 L555.5 305.8 L555.8 302.3 L556.0 298.6 L556.2 294.5 L556.5 290.1 L556.8 285.4 L557.0 280.2 L557.2 274.6 L557.5 268.5 L557.8 261.9 L558.0 254.7 L558.2 246.7 L558.5 238.1 L558.8 228.5 L559.0 218.0 L559.2 206.4 L559.5 193.6 L559.8 179.4 L560.0 163.8 L560.2 146.9 L560.5 129.1 L560.8 111.7 L561.0 97.5 L561.2 90.6 L561.5 93.6 L561.8 105.4 L562.0 121.9 L562.2 139.8 L562.5 157.2 L562.8 173.4 L563.0 188.1 L563.2 201.5 L563.5 213.5 L563.8 224.5 L564.0 234.4 L564.2 243.4 L564.5 251.6 L564.8 259.1 L565.0 266.0 L565.2 272.3 L565.5 278.0 L565.8 283.4 L566.0 288.3 L566.2 292.8 L566.5 297.0 L566.8 300.9 L567.0 304.5 L567.2 307.8 L567.5 310.9 L567.8 313.7 L568.0 316.4 L568.2 318.8 L568.5 321.1 L568.8 323.2 L569.0 325.2 L569.2 327.1 L569.5 328.8 L569.8 330.4 L570.0 331.9 L570.2 333.3 L570.5 334.6 L570.8 335.8 L571.0 336.9 L571.2 338.0 L571.5 339.0 L571.8 339.9 L572.0 340.8 L572.2 341.6 L572.5 342.3 L572.8 343.0 L573.0 343.7 L573.2 344.3 L573.5 344.9 L573.8 345.5 L574.0 346.0 L574.2 346.5 L574.5 347.0 L574.8 347.4 L575.0 347.8 L575.2 348.2 L575.5 348.5 L575.8 348.9 L576.0 349.2 L576.2 349.5 L576.5 349.8 L576.8 350.1 L577.0 350.3 L577.2 350.5 L577.5 350.8 L577.8 351.0 L578.0 351.2 L578.2 351.4 L578.5 351.6 L578.8 351.7 L579.0 351.9 L579.2 352.1 L579.5 352.2 L579.8 352.3 L580.0 352.5 L580.2 352.6 L580.5 352.7 L580.8 352.8 L581.0 352.9 L581.2 353.1 L581.5 353.1 L581.8 353.2 L582.0 353.3 L582.2 353.4 L582.5 353.5 L582.8 353.6 L583.0 353.6 L583.2 353.7 L583.5 353.8 L583.8 353.8 L584.0 353.9 L584.2 354.0 L584.5 354.0 L584.8 354.1 L585.0 354.1 L585.2 354.2 L585.5 354.2 L585.8 354.3 L586.0 354.3 L586.2 354.4 L586.5 354.4 L586.8 354.4 L587.0 354.5 L587.2 354.5 L587.5 354.5" stroke="#ff00ff" stroke-width="1" fill="none" stroke-linejoin="round"/>
<rect x="87.5" y="62.5" width="500" height="374" fill="none" stroke="#000" stroke-width="1.1"/>
<path d="M86.59 436.5v-9.5M86.59 62.5v9.5M118.10 436.5v-18.5M118.10 62.5v18.5M149.61 436.5v-9.5M149.61 62.5v9.5M181.13 436.5v-9.5M181.13 62.5v9.5M212.64 436.5v-9.5M212.64 62.5v9.5M244.16 436.5v-9.5M244.16 62.5v9.5M275.67 436.5v-18.5M275.67 62.5v18.5M307.18 436.5v-9.5M307.18 62.5v9.5M338.70 436.5v-9.5M338.70 62.5v9.5M370.21 436.5v-9.5M370.21 62.5v9.5M401.73 436.5v-9.5M401.73 62.5v9.5M433.24 436.5v-18.5M433.24 62.5v18.5M464.75 436.5v-9.5M464.75 62.5v9.5M496.27 436.5v-9.5M496.27 62.5v9.5M527.78 436.5v-9.5M527.78 62.5v9.5M559.30 436.5v-9.5M559.30 62.5v9.5M87.5 63.38h9.5M587.5 63.38h-9.5M87.5 86.74h9.5M587.5 86.74h-9.5M87.5 110.10h19M587.5 110.10h-19M87.5 133.46h9.5M587.5 133.46h-9.5M87.5 156.82h9.5M587.5 156.82h-9.5M87.5 180.18h9.5M587.5 180.18h-9.5M87.5 203.54h9.5M587.5 203.54h-9.5M87.5 226.90h19M587.5 226.90h-19M87.5 250.26h9.5M587.5 250.26h-9.5M87.5 273.62h9.5M587.5 273.62h-9.5M87.5 296.98h9.5M587.5 296.98h-9.5M87.5 320.34h9.5M587.5 320.34h-9.5M87.5 343.70h19M587.5 343.70h-19M87.5 367.06h9.5M587.5 367.06h-9.5M87.5 390.42h9.5M587.5 390.42h-9.5M87.5 413.78h9.5M587.5 413.78h-9.5" stroke="#000" stroke-width="0.7" fill="none"/>
<g font-family="'Liberation Serif', serif" fill="#000" stroke="#000" stroke-width="0.35" opacity="0.999">
<text x="239" y="40.2" font-size="19" textLength="56.3" lengthAdjust="spacingAndGlyphs">OGLE</text>
<text x="295.6" y="40.2" font-size="19" textLength="5.4" lengthAdjust="spacingAndGlyphs">-</text>
<text x="301" y="40.2" font-size="19" textLength="41" lengthAdjust="spacingAndGlyphs">2025</text>
<text x="342.3" y="40.2" font-size="19" textLength="5.4" lengthAdjust="spacingAndGlyphs">-</text>
<text x="348" y="40.2" font-size="19" textLength="41" lengthAdjust="spacingAndGlyphs">BLG</text>
<text x="389.3" y="40.2" font-size="19" textLength="5.4" lengthAdjust="spacingAndGlyphs">-</text>
<text x="394.6" y="40.2" font-size="19" textLength="41" lengthAdjust="spacingAndGlyphs">0691</text>
<text x="118.1" y="462.6" font-size="19" text-anchor="middle" textLength="41.2" lengthAdjust="spacingAndGlyphs">8000</text>
<text x="275.7" y="462.6" font-size="19" text-anchor="middle" textLength="41.2" lengthAdjust="spacingAndGlyphs">9000</text>
<text x="433.2" y="462.6" font-size="19" text-anchor="middle" textLength="51.5" lengthAdjust="spacingAndGlyphs">10000</text>
<text x="78.8" y="116.5" font-size="19" text-anchor="end" textLength="21.5" lengthAdjust="spacingAndGlyphs">18</text>
<text x="78.8" y="233.3" font-size="19" text-anchor="end" textLength="21.5" lengthAdjust="spacingAndGlyphs">19</text>
<text x="78.8" y="350.1" font-size="19" text-anchor="end" textLength="21.5" lengthAdjust="spacingAndGlyphs">20</text>
<text x="273" y="490.7" font-size="19" textLength="38" lengthAdjust="spacingAndGlyphs">HJD</text>
<text x="318.8" y="490.7" font-size="19" textLength="6" lengthAdjust="spacingAndGlyphs">-</text>
<text x="329.4" y="490.7" font-size="19" textLength="71.8" lengthAdjust="spacingAndGlyphs">2450000</text>
<text transform="translate(26.5 302.9) rotate(-90)" font-size="19" textLength="7.4" lengthAdjust="spacingAndGlyphs">I</text>
<text transform="translate(26.5 290.7) rotate(-90)" font-size="19" textLength="94.2" lengthAdjust="spacingAndGlyphs">magnitude</text>
</g>
</svg>
</body></html>
